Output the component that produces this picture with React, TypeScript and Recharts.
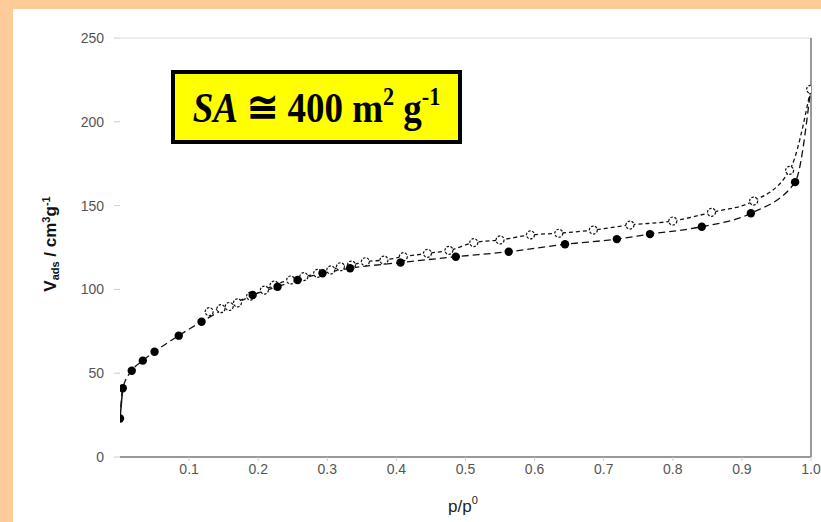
import React from "react";
import { ComposedChart, Line, XAxis, YAxis, ReferenceLine } from "recharts";

// Adsorption branch (filled circles)
const adsP = [0.0, 0.004, 0.017, 0.033, 0.05, 0.085, 0.118, 0.192, 0.228, 0.257, 0.293, 0.333, 0.406, 0.486, 0.5625, 0.644, 0.719, 0.767, 0.842, 0.913, 0.977, 0.9995];
const adsV = [23, 41, 51.5, 57.5, 62.8, 72.4, 80.7, 96.7, 101.6, 105.6, 109.6, 112.6, 116, 119.5, 122.5, 126.9, 130, 133, 137.4, 145.4, 164, 219.4];

// Desorption branch (open circles)
const desP = [0.129, 0.146, 0.158, 0.17, 0.189, 0.209, 0.223, 0.247, 0.266, 0.286, 0.305, 0.319, 0.335, 0.355, 0.382, 0.41, 0.445, 0.476, 0.512, 0.55, 0.594, 0.635, 0.685, 0.738, 0.8, 0.856, 0.917, 0.969, 0.9995];
const desV = [86.7, 88.5, 89.8, 92, 96, 99.6, 102.6, 105.6, 107.6, 109.6, 111.6, 113.5, 114.5, 116.5, 117.5, 119.5, 121.5, 123.3, 127.9, 129.5, 132.5, 133.5, 135.4, 138.4, 140.8, 146, 152.7, 171, 219.4];

const xTicks = [0.1, 0.2, 0.3, 0.4, 0.5, 0.6, 0.7, 0.8, 0.9, 1.0];
const yTicks = [0, 50, 100, 150, 200, 250];

const adsData = adsP.map((p, i) => ({ p, v: adsV[i] }));
const adsStart = adsData.slice(0, 2);
const desData = desP.map((p, i) => ({ p, v: desV[i] }));

const FilledDot = (props: any) => {
  const { cx, cy, index } = props;
  if (index === adsData.length - 1 || cx == null) return <g key={`a-${index}`} />;
  return <circle key={`a-${index}`} cx={cx} cy={cy} r={4.2} fill="#000" />;
};

const OpenDot = (props: any) => {
  const { cx, cy, index } = props;
  if (cx == null) return <g key={`d-${index}`} />;
  return (
    <circle
      key={`d-${index}`}
      cx={cx}
      cy={cy}
      r={4}
      fill="#fff"
      stroke="#111"
      strokeWidth={1.2}
      strokeDasharray="2.5 1.5"
    />
  );
};

const tickStyle = { fontSize: 14, fill: "#555", fontFamily: "'Liberation Sans', Arial, sans-serif" };

export default function App() {
  return (
    <div style={{ position: "absolute", left: 0, top: 0, width: 821, height: 522, background: "#FFCC99", overflow: "hidden" }}>
      <div style={{ position: "absolute", left: 13, top: 9, width: 808, height: 513, background: "#fff" }} />
      <div style={{ position: "absolute", left: 0, top: 0 }}>
        <ComposedChart width={821} height={522} margin={{ top: 38, right: 10, bottom: 35, left: 0 }}>
          <XAxis
            type="number"
            dataKey="p"
            domain={[0, 1]}
            ticks={xTicks}
            tickFormatter={(v: number) => v.toFixed(1)}
            allowDataOverflow
            axisLine={{ stroke: "#999", strokeWidth: 2 }}
            tickLine={{ stroke: "#ccc" }}
            tickSize={4}
            tickMargin={3}
            tick={tickStyle}
            height={30}
          />
          <YAxis
            type="number"
            dataKey="v"
            domain={[0, 250]}
            ticks={yTicks}
            allowDataOverflow
            axisLine={false}
            tickLine={{ stroke: "#ccc" }}
            tickSize={6}
            tickMargin={10}
            tick={tickStyle}
            width={120}
          />
          <ReferenceLine y={250} stroke="#eee" strokeWidth={2} ifOverflow="visible" />
          <ReferenceLine x={1} stroke="#999" strokeWidth={2} ifOverflow="visible" />
          <Line
            data={desData}
            dataKey="v"
            type="monotone"
            stroke="#111"
            strokeWidth={1.3}
            strokeDasharray="4 3"
            dot={OpenDot}
            activeDot={false}
            isAnimationActive={false}
          />
          <Line
            data={adsData}
            dataKey="v"
            type="monotone"
            stroke="#111"
            strokeWidth={1.3}
            strokeDasharray="7 4"
            dot={FilledDot}
            activeDot={false}
            isAnimationActive={false}
          />
          <Line
            data={adsStart}
            dataKey="v"
            type="linear"
            stroke="#111"
            strokeWidth={1.5}
            dot={false}
            activeDot={false}
            isAnimationActive={false}
          />
        </ComposedChart>
      </div>
      <svg style={{ position: "absolute", left: 0, top: 0 }} width={821} height={522} pointerEvents="none">
        <text
          x={0}
          y={0}
          transform="translate(56 244) rotate(-90)"
          textAnchor="middle"
          fontFamily="'Liberation Sans', Arial, sans-serif"
          fontWeight="bold"
          fontSize={17}
          fill="#111"
        >
          <tspan>V</tspan>
          <tspan fontSize={11} dy={3}>ads</tspan>
          <tspan dy={-3}> / cm</tspan>
          <tspan fontSize={11} dy={-6}>3</tspan>
          <tspan dy={6}>g</tspan>
          <tspan fontSize={11} dy={-6}>-1</tspan>
        </text>
        <text
          x={463}
          y={512}
          textAnchor="middle"
          fontFamily="'Liberation Sans', Arial, sans-serif"
          fontSize={17}
          fill="#222"
        >
          <tspan>p/p</tspan>
          <tspan fontSize={11} dy={-8}>0</tspan>
        </text>
      </svg>
      <div
        style={{
          position: "absolute",
          left: 171,
          top: 70,
          width: 283,
          height: 66,
          background: "#FFFF00",
          border: "4px solid #000",
          display: "flex",
          alignItems: "center",
          justifyContent: "center",
          fontFamily: "'Liberation Serif', 'Times New Roman', serif",
          fontWeight: "bold",
          fontSize: 37,
          color: "#000",
          whiteSpace: "nowrap",
        }}
      >
        <span style={{ display: "inline-block", transform: "scaleY(1.15)", lineHeight: 1 }}>
          <i>SA</i> ≅ 400 m<sup style={{ fontSize: "0.6em", verticalAlign: "0.65em", lineHeight: 0 }}>2</sup> g
          <sup style={{ fontSize: "0.6em", verticalAlign: "0.65em", lineHeight: 0 }}>-1</sup>
        </span>
      </div>
    </div>
  );
}
